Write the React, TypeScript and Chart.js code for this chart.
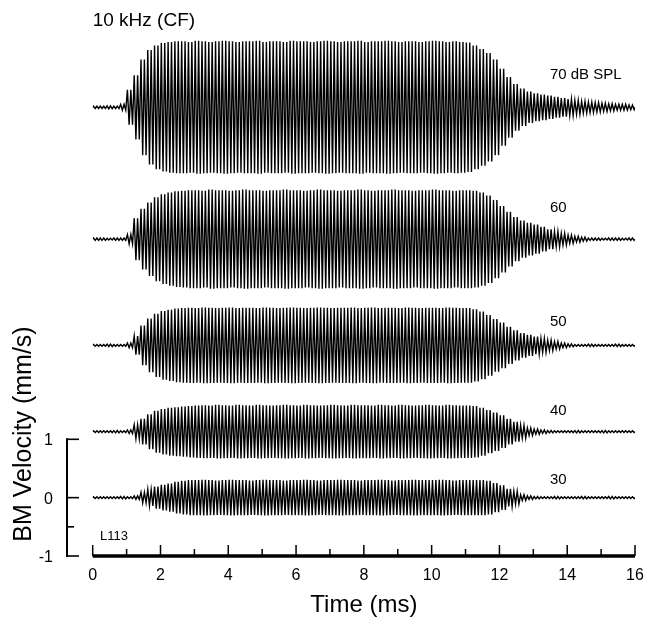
import React, { useEffect, useRef } from "react";
import { Chart, registerables } from "chart.js";

Chart.register(...registerables);

// Envelope (peak amplitude) of each 10 kHz trace, one value per 0.2 ms interval (0 .. 16 ms)
const STEP_MS = 0.2;
const HALF_CYCLES_PER_STEP = 4; // 10 kHz => two cycles per 0.2 ms

const env70 = [
  0.02, 0.02, 0.025, 0.02, 0.05, 0.3, 0.55, 0.82, 0.98, 1.06,
  1.1, 1.12, 1.13, 1.13, 1.12, 1.14, 1.13, 1.12, 1.13, 1.14,
  1.13, 1.12, 1.13, 1.13, 1.14, 1.12, 1.13, 1.13, 1.12, 1.14,
  1.13, 1.13, 1.12, 1.13, 1.14, 1.13, 1.12, 1.13, 1.13, 1.14,
  1.12, 1.13, 1.13, 1.14, 1.13, 1.12, 1.13, 1.13, 1.12, 1.13,
  1.14, 1.13, 1.12, 1.13, 1.12, 1.11, 1.06, 1.0, 0.93, 0.82,
  0.66, 0.52, 0.4, 0.32, 0.27, 0.24, 0.22, 0.2, 0.18, 0.16,
  0.14, 0.12, 0.1, 0.09, 0.08, 0.07, 0.06, 0.05, 0.05, 0.04,
];
const env60 = [
  0.02, 0.02, 0.015, 0.02, 0.02, 0.08, 0.36, 0.52, 0.63, 0.72,
  0.77, 0.8, 0.82, 0.83, 0.84, 0.84, 0.83, 0.85, 0.84, 0.84,
  0.83, 0.84, 0.85, 0.84, 0.84, 0.83, 0.84, 0.84, 0.85, 0.84,
  0.84, 0.83, 0.84, 0.85, 0.84, 0.84, 0.83, 0.84, 0.84, 0.85,
  0.84, 0.83, 0.84, 0.84, 0.85, 0.84, 0.84, 0.83, 0.84, 0.84,
  0.85, 0.84, 0.84, 0.83, 0.84, 0.84, 0.83, 0.8, 0.75, 0.67,
  0.57, 0.47, 0.38, 0.32, 0.28, 0.25, 0.21, 0.17, 0.13, 0.1,
  0.07, 0.05, 0.035, 0.02, 0.02, 0.015, 0.02, 0.02, 0.015, 0.02,
];
const env50 = [
  0.015, 0.015, 0.02, 0.015, 0.015, 0.04, 0.16, 0.34, 0.46, 0.54,
  0.59, 0.61, 0.63, 0.64, 0.645, 0.64, 0.65, 0.645, 0.64, 0.645,
  0.65, 0.64, 0.645, 0.645, 0.64, 0.65, 0.645, 0.64, 0.645, 0.65,
  0.645, 0.64, 0.645, 0.65, 0.645, 0.64, 0.645, 0.645, 0.65, 0.64,
  0.645, 0.65, 0.64, 0.645, 0.645, 0.64, 0.65, 0.645, 0.64, 0.645,
  0.645, 0.64, 0.65, 0.645, 0.64, 0.64, 0.62, 0.58, 0.52, 0.45,
  0.39, 0.32, 0.26, 0.21, 0.18, 0.15, 0.12, 0.09, 0.065, 0.04,
  0.025, 0.015, 0.015, 0.02, 0.015, 0.015, 0.015, 0.02, 0.015, 0.015,
];
const env40 = [
  0.015, 0.015, 0.015, 0.02, 0.015, 0.03, 0.12, 0.22, 0.3, 0.36,
  0.39, 0.41, 0.42, 0.43, 0.44, 0.45, 0.455, 0.45, 0.46, 0.455,
  0.45, 0.46, 0.455, 0.45, 0.46, 0.455, 0.45, 0.455, 0.46, 0.455,
  0.45, 0.46, 0.455, 0.45, 0.455, 0.46, 0.455, 0.45, 0.46, 0.455,
  0.455, 0.45, 0.46, 0.455, 0.45, 0.46, 0.455, 0.45, 0.455, 0.46,
  0.455, 0.45, 0.46, 0.455, 0.45, 0.45, 0.44, 0.41, 0.37, 0.33,
  0.28, 0.22, 0.17, 0.11, 0.065, 0.045, 0.03, 0.02, 0.015, 0.015,
  0.015, 0.02, 0.015, 0.015, 0.015, 0.02, 0.015, 0.015, 0.015, 0.015,
];
const env30 = [
  0.015, 0.015, 0.015, 0.015, 0.02, 0.015, 0.03, 0.09, 0.14, 0.19,
  0.22, 0.24, 0.27, 0.29, 0.3, 0.3, 0.305, 0.3, 0.295, 0.3,
  0.305, 0.3, 0.3, 0.295, 0.3, 0.305, 0.3, 0.3, 0.295, 0.3,
  0.3, 0.305, 0.3, 0.295, 0.3, 0.3, 0.305, 0.3, 0.3, 0.295,
  0.3, 0.3, 0.305, 0.3, 0.295, 0.3, 0.3, 0.305, 0.3, 0.3,
  0.3, 0.305, 0.3, 0.295, 0.3, 0.3, 0.3, 0.3, 0.29, 0.25,
  0.21, 0.15, 0.11, 0.05, 0.03, 0.02, 0.015, 0.015, 0.02, 0.015,
  0.015, 0.015, 0.02, 0.015, 0.015, 0.015, 0.02, 0.015, 0.015, 0.015,
];

// Vertical offsets of each trace (in axis units) and their level labels
const traceLevels = ["70 dB SPL", "60", "50", "40", "30"];
const traceOffsets = [6.69, 4.43, 2.61, 1.13, 0];
const traceEnvelopes = [env70, env60, env50, env40, env30];
const labelTime = 13.49;
const labelValues = [7.17, 4.9, 2.95, 1.42, 0.235];

const X_MIN = 0;
const X_MAX = 16;
const Y_MIN = -1;
const Y_MAX = 8;
const xTicks = [0, 1, 2, 3, 4, 5, 6, 7, 8, 9, 10, 11, 12, 13, 14, 15, 16];
const xTickLabels = [0, 2, 4, 6, 8, 10, 12, 14, 16];
const yTickLabels = [-1, 0, 1];
const yMinorTicks = [-0.5];

const FONT = "'Liberation Sans', Arial, Helvetica, sans-serif";

function buildTrace(env: number[], base: number) {
  const pts: { x: number; y: number }[] = [{ x: X_MIN, y: base }];
  env.forEach((a, i) => {
    for (let k = 0; k < HALF_CYCLES_PER_STEP; k++) {
      const t = i * STEP_MS + ((k + 0.5) * STEP_MS) / HALF_CYCLES_PER_STEP;
      pts.push({ x: t, y: base + (k % 2 === 0 ? a : -a) });
    }
  });
  pts.push({ x: X_MAX, y: base });
  return pts;
}

const decorPlugin = {
  id: "decor",
  afterDraw(chart: any) {
    const ctx = chart.ctx as CanvasRenderingContext2D;
    const xs = chart.scales.x;
    const ys = chart.scales.y;
    const ca = chart.chartArea;
    ctx.save();
    ctx.fillStyle = "#000";
    ctx.strokeStyle = "#000";

    // Y scale bar (offset to the left of the traces)
    const axX = ca.left - 25.7;
    ctx.lineWidth = 2;
    ctx.lineCap = "square";
    ctx.beginPath();
    ctx.moveTo(axX, ys.getPixelForValue(1));
    ctx.lineTo(axX, ys.getPixelForValue(-1));
    ctx.stroke();
    ctx.lineCap = "butt";
    ctx.lineWidth = 1.6;
    yTickLabels.forEach((v) => {
      const py = ys.getPixelForValue(v);
      ctx.beginPath();
      ctx.moveTo(axX, py);
      ctx.lineTo(axX + 12, py);
      ctx.stroke();
    });
    yMinorTicks.forEach((v) => {
      const py = ys.getPixelForValue(v);
      ctx.beginPath();
      ctx.moveTo(axX, py);
      ctx.lineTo(axX + 7, py);
      ctx.stroke();
    });
    ctx.font = `16px ${FONT}`;
    ctx.textAlign = "right";
    ctx.textBaseline = "middle";
    yTickLabels.forEach((v) => {
      ctx.fillText(String(v), axX - 14, ys.getPixelForValue(v) + 1.5);
    });

    // X axis (at y = -1)
    const yb = ys.getPixelForValue(Y_MIN);
    ctx.lineWidth = 3.5;
    ctx.beginPath();
    ctx.moveTo(xs.getPixelForValue(X_MIN), yb);
    ctx.lineTo(xs.getPixelForValue(X_MAX), yb);
    ctx.stroke();
    ctx.lineWidth = 1.5;
    xTicks.forEach((t) => {
      const px = xs.getPixelForValue(t);
      const len = xTickLabels.includes(t) ? 11 : 7;
      ctx.beginPath();
      ctx.moveTo(px, yb);
      ctx.lineTo(px, yb - len);
      ctx.stroke();
    });
    ctx.textAlign = "center";
    ctx.textBaseline = "alphabetic";
    xTickLabels.forEach((t) => {
      ctx.fillText(String(t), xs.getPixelForValue(t), yb + 24);
    });

    // Axis titles
    ctx.font = `24px ${FONT}`;
    ctx.fillText("Time (ms)", (ca.left + ca.right) / 2, yb + 55.7);
    ctx.save();
    ctx.font = `25px ${FONT}`;
    ctx.translate(31, 434);
    ctx.rotate(-Math.PI / 2);
    ctx.textAlign = "center";
    ctx.fillText("BM Velocity (mm/s)", 0, 0);
    ctx.restore();

    // Panel title and annotations
    ctx.textAlign = "left";
    ctx.font = `19px ${FONT}`;
    ctx.fillText("10 kHz (CF)", ca.left, 26);
    ctx.font = `15px ${FONT}`;
    traceLevels.forEach((lab, i) => {
      ctx.fillText(lab, xs.getPixelForValue(labelTime), ys.getPixelForValue(labelValues[i]));
    });
    ctx.font = `13px ${FONT}`;
    ctx.fillText("L113", ca.left + 7.3, yb - 16);
    ctx.restore();
  },
};

export default function App() {
  const ref = useRef<HTMLCanvasElement | null>(null);
  useEffect(() => {
    if (!ref.current) return;
    const chart = new Chart(ref.current, {
      type: "line",
      data: {
        datasets: traceEnvelopes.map((env, i) => ({
          label: traceLevels[i],
          data: buildTrace(env, traceOffsets[i]),
          borderColor: "#000",
          borderWidth: 1.4,
          borderJoinStyle: "miter",
          pointRadius: 0,
          tension: 0,
          fill: false,
        })),
      },
      options: {
        responsive: false,
        maintainAspectRatio: false,
        devicePixelRatio: 1,
        animation: false,
        layout: { padding: { left: 92.7, right: 10, top: 30.85, bottom: 64 } },
        plugins: { legend: { display: false }, tooltip: { enabled: false } },
        scales: {
          x: { type: "linear", min: X_MIN, max: X_MAX, display: false },
          y: { type: "linear", min: Y_MIN, max: Y_MAX, display: false },
        },
      },
      plugins: [decorPlugin],
    });
    return () => chart.destroy();
  }, []);
  return (
    <div style={{ position: "absolute", left: 0, top: 0, width: 645, height: 620, background: "#fff" }}>
      <canvas ref={ref} width={645} height={620} style={{ display: "block" }} />
    </div>
  );
}
